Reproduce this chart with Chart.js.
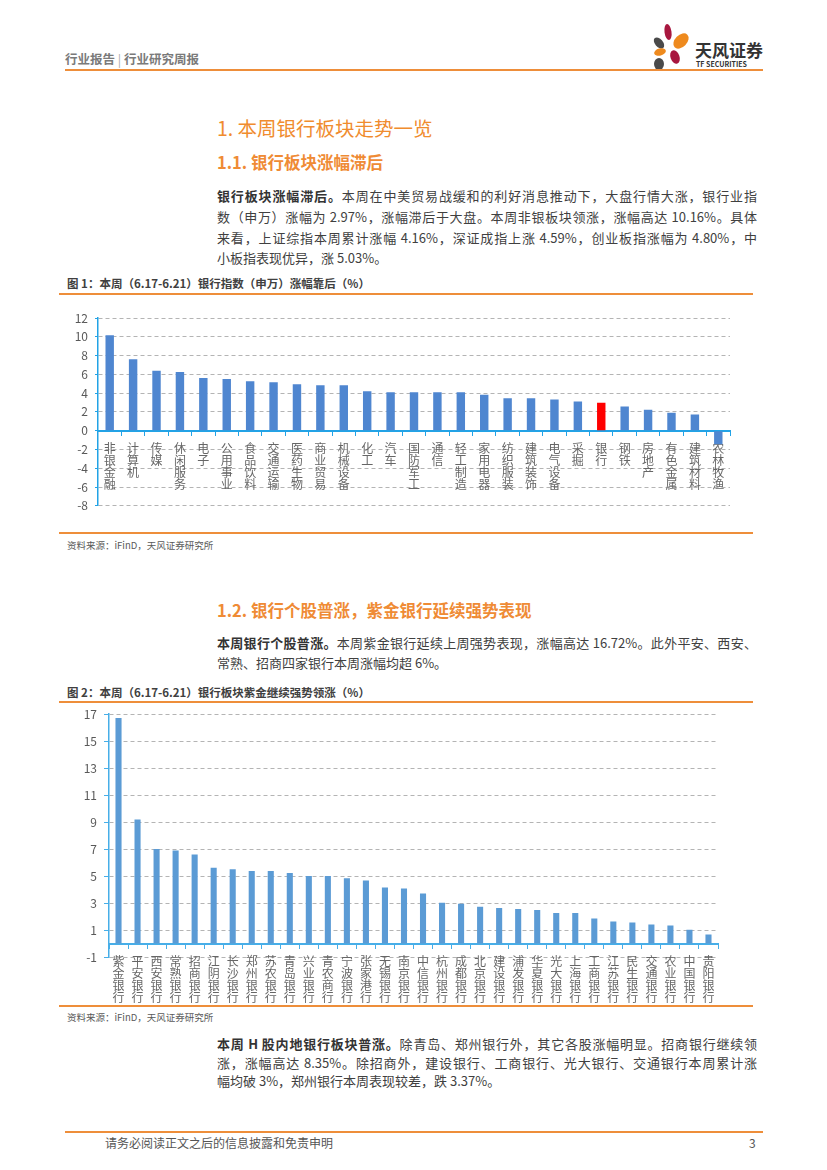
<!DOCTYPE html>
<html>
<head>
<meta charset="utf-8">
<script src="https://cdn.jsdelivr.net/npm/chart.js@4.4.1/dist/chart.umd.min.js"></script>
<style>
  body { margin: 0; background: #fff; font-family: 'Noto Sans CJK SC', 'Noto Sans', sans-serif; }
  .page { position: relative; width: 827px; height: 1170px; overflow: hidden; }
  .t { position: absolute; white-space: nowrap; }
  .rule { position: absolute; height: 2px; background: #ee8e3a; }
  .p { position: absolute; left: 217px; width: 540px; font-size: 13px; color: #404040; line-height: 20px; text-align: justify; text-align-last: justify; }
  .p.last { text-align-last: left; }
  .p b { color: #333; }
  .cap { position: absolute; left: 67px; font-size: 11.5px; font-weight: bold; color: #404040; line-height: 16px; white-space: nowrap; }
  .src { position: absolute; left: 67px; font-size: 9.5px; color: #595959; line-height: 14px; white-space: nowrap; }
  .h2 { position: absolute; left: 217px; font-size: 16.5px; font-weight: bold; color: #ef8b35; line-height: 22px; white-space: nowrap; }
  canvas { position: absolute; }
</style>
</head>
<body>
<div class="page">
  <!-- header -->
  <div class="t" style="left:65px; top:49px; font-size:12.5px; font-weight:bold; color:#7a7a7a;">行业报告<span style="font-weight:normal; color:#aaa;"> | </span>行业研究周报</div>
  <svg style="position:absolute; left:640px; top:20px;" width="130" height="55" viewBox="640 20 130 55">
    <ellipse cx="668" cy="32" rx="3.5" ry="8" fill="#a8173f" transform="rotate(-8 668 32)"/>
    <ellipse cx="659" cy="43" rx="4" ry="6.5" fill="#4a4a4a" transform="rotate(-40 659 43)"/>
    <ellipse cx="681" cy="41" rx="6" ry="9" fill="#ee8a1e" transform="rotate(45 681 41)"/>
    <ellipse cx="660" cy="52" rx="6" ry="3.5" fill="#ee8a1e" transform="rotate(-15 660 52)"/>
    <ellipse cx="675" cy="57" rx="4.5" ry="7" fill="#a8173f" transform="rotate(-20 675 57)"/>
    <ellipse cx="659" cy="64" rx="5" ry="6" fill="#4a4a4a"/>
  </svg>
  <div class="t" style="left:695px; top:38px; font-size:17px; font-weight:bold; color:#333; line-height:24px;">天风证券</div>
  <div class="t" style="left:696px; top:59px; font-size:7px; font-weight:bold; color:#333; line-height:10px;">TF SECURITIES</div>
  <div class="rule" style="left:65px; top:69px; width:698px;"></div>

  <!-- section 1 -->
  <div class="t" style="left:217px; top:114px; font-size:19.5px; color:#f08c2e; line-height:28px;">1. 本周银行板块走势一览</div>
  <div class="h2" style="top:151px;">1.1. 银行板块涨幅滞后</div>
  <div class="p" style="top:186px;"><b>银行板块涨幅滞后。</b>本周在中美贸易战缓和的利好消息推动下，大盘行情大涨，银行业指</div>
  <div class="p" style="top:207px;">数（申万）涨幅为 2.97%，涨幅滞后于大盘。本周非银板块领涨，涨幅高达 10.16%。具体</div>
  <div class="p" style="top:228px;">来看，上证综指本周累计涨幅 4.16%，深证成指上涨 4.59%，创业板指涨幅为 4.80%，中</div>
  <div class="p last" style="top:248px;">小板指表现优异，涨 5.03%。</div>

  <div class="cap" style="top:275px;">图 1：本周（6.17-6.21）银行指数（申万）涨幅靠后（%）</div>
  <div class="rule" style="left:59px; top:293px; width:694px;"></div>
  <canvas id="industryChart" width="710" height="220" style="left:40px; top:300px;"></canvas>
  <div class="rule" style="left:59px; top:532px; width:694px;"></div>
  <div class="src" style="top:538px;">资料来源：iFinD，天风证券研究所</div>

  <!-- section 1.2 -->
  <div class="h2" style="top:599px;">1.2. 银行个股普涨，紫金银行延续强势表现</div>
  <div class="p" style="top:633px;"><b>本周银行个股普涨。</b>本周紫金银行延续上周强势表现，涨幅高达 16.72%。此外平安、西安、</div>
  <div class="p last" style="top:653px;">常熟、招商四家银行本周涨幅均超 6%。</div>

  <div class="cap" style="top:684px;">图 2：本周（6.17-6.21）银行板块紫金继续强势领涨（%）</div>
  <div class="rule" style="left:59px; top:701px; width:694px;"></div>
  <canvas id="bankChart" width="700" height="304" style="left:40px; top:700px;"></canvas>
  <div class="rule" style="left:59px; top:1005px; width:694px;"></div>
  <div class="src" style="top:1010px;">资料来源：iFinD，天风证券研究所</div>

  <div class="p" style="top:1035px; line-height:18px;"><b>本周 H 股内地银行板块普涨。</b>除青岛、郑州银行外，其它各股涨幅明显。招商银行继续领</div>
  <div class="p" style="top:1054px; line-height:18px;">涨，涨幅高达 8.35%。除招商外，建设银行、工商银行、光大银行、交通银行本周累计涨</div>
  <div class="p last" style="top:1072px; line-height:18px;">幅均破 3%，郑州银行本周表现较差，跌 3.37%。</div>

  <!-- footer -->
  <div class="rule" style="left:65px; top:1131px; width:698px;"></div>
  <div class="t" style="left:105px; top:1135px; font-size:12px; color:#555; line-height:16px;">请务必阅读正文之后的信息披露和免责申明</div>
  <div class="t" style="left:749px; top:1135px; font-size:12px; color:#555; line-height:16px;">3</div>
</div>

<script>
// 图1：申万行业本周涨跌幅（%）
const industryLabels = ['非银金融', '计算机', '传媒', '休闲服务', '电子', '公用事业', '食品饮料', '交通运输', '医药生物',
  '商业贸易', '机械设备', '化工', '汽车', '国防军工', '通信', '轻工制造', '家用电器', '纺织服装', '建筑装饰',
  '电气设备', '采掘', '银行', '钢铁', '房地产', '有色金属', '建筑材料', '农林牧渔']
const industryChange = [10.16, 7.6, 6.38, 6.24, 5.61, 5.5, 5.26, 5.16, 4.95,
  4.85, 4.85, 4.2, 4.1, 4.08, 4.08, 4.08, 3.83, 3.45, 3.45,
  3.31, 3.1, 2.97, 2.58, 2.23, 1.92, 1.71, -1.45]
const industryRange = [-8, 12]

// 图2：银行个股本周涨跌幅（%）
const bankLabels = ['紫金银行', '平安银行', '西安银行', '常熟银行', '招商银行', '江阴银行', '长沙银行', '郑州银行',
  '苏农银行', '青岛银行', '兴业银行', '青农商行', '宁波银行', '张家港行', '无锡银行', '南京银行', '中信银行',
  '杭州银行', '成都银行', '北京银行', '建设银行', '浦发银行', '华夏银行', '光大银行', '上海银行', '工商银行',
  '江苏银行', '民生银行', '交通银行', '农业银行', '中国银行', '贵阳银行']
const bankChange = [16.72, 9.2, 7.0, 6.9, 6.59, 5.61, 5.51, 5.37,
  5.37, 5.22, 5.0, 5.0, 4.83, 4.68, 4.15, 4.07, 3.71,
  3.02, 2.95, 2.73, 2.63, 2.56, 2.49, 2.27, 2.27, 1.85,
  1.63, 1.56, 1.41, 1.34, 1.02, 0.66]
const bankRange = [-1, 17]

const tickStep = 2
const highlight = '银行'

const font = "'Noto Sans CJK SC', 'Noto Sans', sans-serif"

function barChart(id, labels, values, range, opts) {
  const ctx = document.getElementById(id).getContext('2d')
  return new Chart(ctx, {
    type: 'bar',
    data: {
      labels: labels.map(s => s.split('')),
      datasets: [{
        data: values,
        backgroundColor: labels.map(s => s === highlight ? '#ff0000' : opts.barColor),
        categoryPercentage: 1,
        barPercentage: opts.barPct
      }]
    },
    options: {
      responsive: false,
      animation: false,
      layout: { padding: opts.padding },
      plugins: { legend: { display: false }, tooltip: { enabled: false } },
      scales: {
        x: {
          position: { y: 0 },
          grid: { drawOnChartArea: false, tickLength: 4, tickColor: opts.axisColor, offset: true },
          border: { color: opts.axisColor, width: 2 },
          ticks: {
            autoSkip: false, maxRotation: 0, minRotation: 0, padding: opts.labelPad,
            color: '#666', font: { family: font, size: 12, lineHeight: 1.0 }
          }
        },
        y: {
          min: range[0],
          max: range[1],
          afterFit: s => { s.width = opts.yWidth },
          grid: { color: '#b4b4b4', tickColor: opts.axisColor, tickLength: opts.yTick, tickBorderDash: [] },
          border: { color: opts.axisColor, width: 1.5, dash: [4, 3] },
          ticks: {
            stepSize: tickStep, padding: opts.yPad,
            color: '#595959', font: { family: font, size: 12 }
          }
        }
      }
    }
  })
}

barChart('industryChart', industryLabels, industryChange, industryRange, {
  barColor: '#4f86d0', axisColor: '#22a3e6', barPct: 0.36,
  padding: { left: 0, right: 20, top: 18, bottom: 11 },
  yWidth: 58, yTick: 3, yPad: 7, labelPad: 8
})

barChart('bankChart', bankLabels, bankChange, bankRange, {
  barColor: '#5b9bd5', axisColor: '#47aee8', barPct: 0.32,
  padding: { left: 0, right: 22, top: 11, bottom: 47 },
  yWidth: 69, yTick: 5, yPad: 7, labelPad: 8
})
</script>
</body>
</html>
